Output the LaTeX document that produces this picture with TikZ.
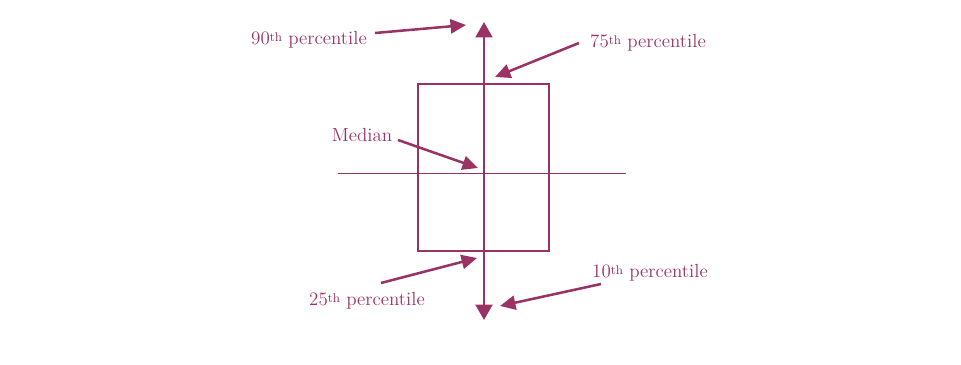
\documentclass[tikz,border=0pt]{standalone}
\usepackage{tikz}
\usetikzlibrary{arrows.meta}
\definecolor{cPlum}{HTML}{993366}
\tikzset{
  lbl/.style={text=cPlum, font=\fontsize{13.5}{16}\selectfont, inner sep=0pt},
  pointer/.style={draw=cPlum, line width=1.8pt, -{Triangle[length=11pt, width=10pt]}},
  whisker/.style={draw=cPlum, line width=1.8pt, {Triangle[length=11pt, width=12pt]}-{Triangle[length=11pt, width=12pt]}},
  iqr/.style={draw=cPlum, line width=1.5pt},
  midline/.style={draw=cPlum, line width=0.7pt},
}
\newcommand{\pct}[1]{#1\raisebox{0.45ex}{\fontsize{9}{10}\selectfont th} percentile}

\begin{document}
\begin{tikzpicture}[x=0.025cm, y=-0.025cm]
  \useasboundingbox (0,0) rectangle (961,365);
  % box and lines
  \draw[midline] (338,173) -- (626,173);
  \draw[iqr] (418,84) rectangle (549,251);
  \coordinate (top) at (484,22);
  \coordinate (bot) at (484,320);
  \draw[whisker] (bot) -- (top);
  % labels
  \node[lbl] (l90) at (309,40) {\pct{90}};
  \node[lbl] (l75) at (648,43) {\pct{75}};
  \node[lbl] (lmed) at (362,135) {Median};
  \node[lbl] (l25) at (367,301) {\pct{25}};
  \node[lbl] (l10) at (650,273) {\pct{10}};
  % pointer ends
  \coordinate (s90) at (375,33);  \coordinate (t90) at (466,25);
  \coordinate (s75) at (579,43);  \coordinate (t75) at (495,77);
  \coordinate (smed) at (398,140); \coordinate (tmed) at (478,168);
  \coordinate (s25) at (381,283); \coordinate (t25) at (477,258);
  \coordinate (s10) at (601,284); \coordinate (t10) at (500,306);
  \foreach \p in {90,75,med,25,10}
    \draw[pointer] (s\p) -- (t\p);
\end{tikzpicture}
\end{document}
